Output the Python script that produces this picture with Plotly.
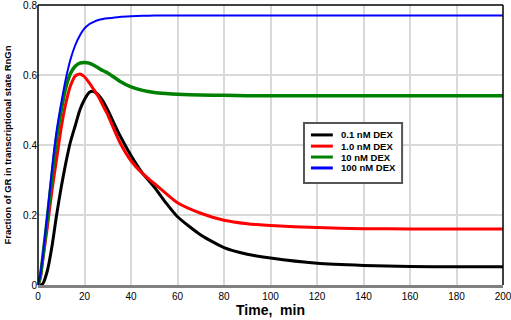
import plotly.graph_objects as go

time_min = [0, 1, 2, 4, 6, 8, 10, 12, 14, 16, 18, 20, 22, 24, 26, 28, 30, 35, 40, 45,
            50, 55, 60, 70, 80, 90, 100, 120, 140, 160, 180, 200]

dex_0_1 = [0, 0, 0.003, 0.04, 0.11, 0.2, 0.28, 0.35, 0.41, 0.455, 0.5, 0.53, 0.55, 0.553,
           0.543, 0.525, 0.5, 0.43, 0.37, 0.319, 0.28, 0.235, 0.195, 0.143, 0.107, 0.088,
           0.077, 0.062, 0.056, 0.053, 0.052, 0.052]
dex_1_0 = [0, 0.02, 0.07, 0.165, 0.27, 0.36, 0.45, 0.52, 0.57, 0.597, 0.603, 0.595, 0.578,
           0.558, 0.538, 0.512, 0.486, 0.41, 0.355, 0.318, 0.29, 0.262, 0.235, 0.205, 0.185,
           0.175, 0.17, 0.164, 0.161, 0.16, 0.16, 0.16]
dex_10 = [0, 0.025, 0.075, 0.19, 0.31, 0.42, 0.5, 0.565, 0.605, 0.625, 0.634, 0.636, 0.634,
          0.628, 0.62, 0.612, 0.606, 0.583, 0.566, 0.556, 0.55, 0.547, 0.545, 0.543, 0.542,
          0.541, 0.541, 0.541, 0.541, 0.541, 0.541, 0.541]
dex_100 = [0, 0.03, 0.08, 0.2, 0.33, 0.44, 0.52, 0.59, 0.645, 0.685, 0.713, 0.733, 0.745,
           0.752, 0.757, 0.76, 0.762, 0.766, 0.768, 0.769, 0.77, 0.77, 0.77, 0.77, 0.77,
           0.77, 0.77, 0.77, 0.77, 0.77, 0.77, 0.77]

series_names = ["0.1 nM DEX", "1.0 nM DEX", "10 nM DEX", "100 nM DEX"]
series_values = [dex_0_1, dex_1_0, dex_10, dex_100]
series_colors = ["#000000", "#ff0000", "#008000", "#0000ff"]
series_widths = [3, 3, 3.5, 2]

x_ticks = [0, 20, 40, 60, 80, 100, 120, 140, 160, 180, 200]
y_ticks = [0, 0.2, 0.4, 0.6, 0.8]
y_tick_labels = ["0", "0.2", "0.4", "0.6", "0.8"]

fig = go.Figure()
for name, vals, color, w in zip(series_names, series_values, series_colors, series_widths):
    fig.add_trace(go.Scatter(x=time_min, y=vals, mode="lines", name=name, showlegend=False,
                             hoverinfo="skip",
                             line=dict(color=color, width=w, shape="spline", smoothing=0.6)))

font_family = "Liberation Sans, Arial, sans-serif"

# manual legend (compact rows like the reference)
shapes = [
    dict(type="rect", xref="paper", yref="paper", x0=0.572, x1=0.783, y0=0.364, y1=0.579,
         line=dict(color="#555555", width=2), fillcolor="white", layer="above"),
    dict(type="line", xref="paper", yref="paper", x0=0, x1=0, y0=0, y1=1,
         line=dict(color="black", width=1.5)),
    dict(type="line", xref="paper", yref="paper", x0=0, x1=1, y0=1, y1=1,
         line=dict(color="black", width=1.5)),
    dict(type="line", xref="paper", yref="paper", x0=1, x1=1, y0=0, y1=1,
         line=dict(color="black", width=1.5)),
]
annotations = []
legend_rows_y = [0.536, 0.496, 0.457, 0.418]
for name, color, ly in zip(series_names, series_colors, legend_rows_y):
    shapes.append(dict(type="line", xref="paper", yref="paper", x0=0.587, x1=0.634,
                       y0=ly, y1=ly, line=dict(color=color, width=3), layer="above"))
    annotations.append(dict(xref="paper", yref="paper", x=0.647, y=ly, text=name,
                            showarrow=False, xanchor="left", yanchor="middle",
                            font=dict(family=font_family, size=9.5, weight="bold",
                                      color="#000000")))

fig.update_layout(
    width=511, height=320,
    margin=dict(l=38, r=8, t=5, b=35),
    paper_bgcolor="white", plot_bgcolor="white",
    font=dict(family=font_family, size=10, color="#000000"),
    showlegend=False,
    hovermode=False,
    xaxis=dict(range=[0, 200], tickvals=x_ticks, showgrid=True, automargin=False,
               gridcolor="#d9d9d9", gridwidth=1.5, zeroline=False,
               showline=True, linecolor="#808080", linewidth=3,
               ticks="", tickfont=dict(size=10), ticklabeloverflow="allow",
               title=dict(text="Time,\u00a0\u00a0min", standoff=2,
                          font=dict(size=14, weight="bold"))),
    yaxis=dict(range=[0, 0.8], tickvals=y_ticks, ticktext=y_tick_labels, showgrid=True,
               automargin=False, gridcolor="#d9d9d9", gridwidth=1.5, zeroline=False,
               showline=False, ticks="", tickfont=dict(size=10), ticklabeloverflow="allow",
               title=dict(text="Fraction of GR in transcriptional state RnGn", standoff=9,
                          font=dict(size=9.5, weight="bold"))),
    shapes=shapes,
    annotations=annotations,
)

fig.write_html("out.html", config={"displayModeBar": False},
               post_script="document.body.style.margin='0';document.body.style.padding='0';")
